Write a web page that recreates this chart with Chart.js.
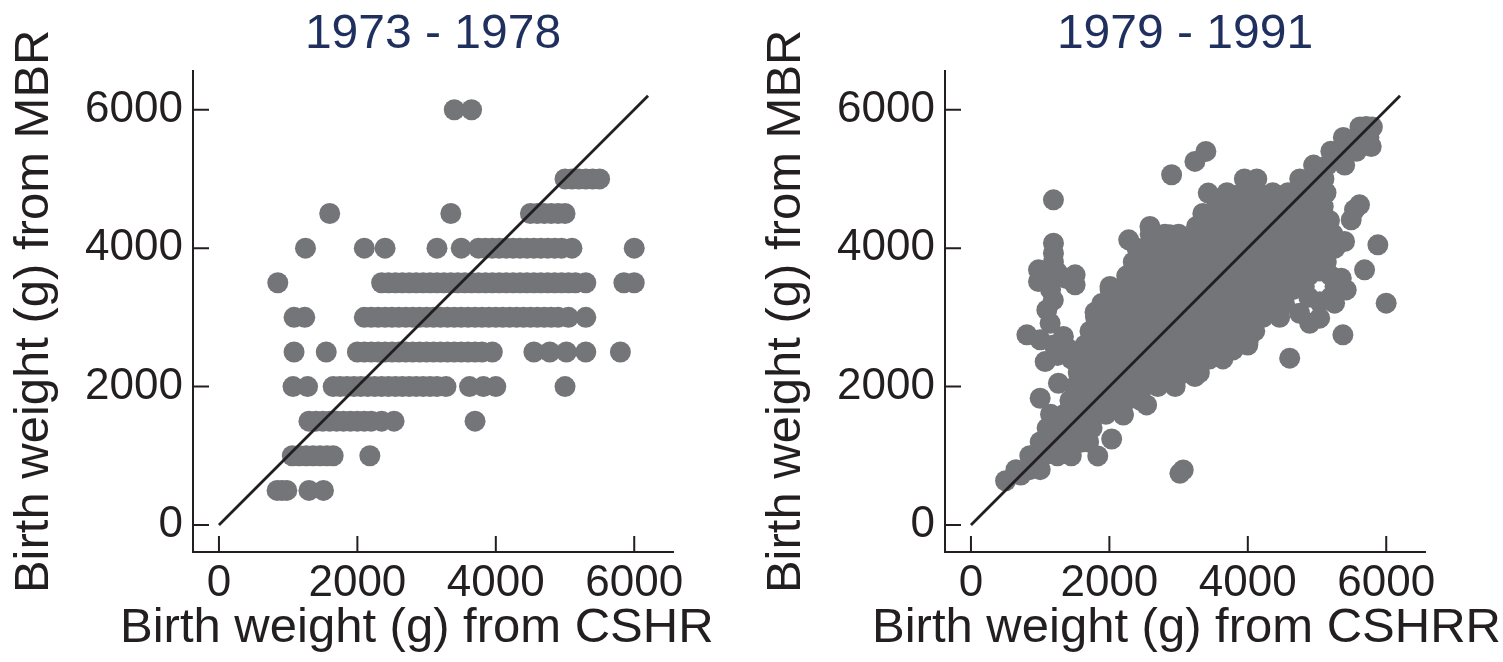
<!DOCTYPE html>
<html>
<head>
<meta charset="utf-8">
<script src="https://cdn.jsdelivr.net/npm/chart.js@4.4.1/dist/chart.umd.min.js"></script>
<style>
  body { margin: 0; background: #fff; }
  .panel { position: absolute; top: 0; height: 662px; }
  #left { left: 0; width: 752px; }
  #right { left: 752px; width: 751px; }
</style>
</head>
<body>
<div class="panel" id="left"><canvas id="c1" width="752" height="662"></canvas></div>
<div class="panel" id="right"><canvas id="c2" width="751" height="662"></canvas></div>
<script>
const xTicks = [0, 2000, 4000, 6000]
const yTicks = [0, 2000, 4000, 6000]
const refLine = [0, 6200]

// 1973 - 1978: MBR weights come in 500 g steps, one row per level
const leftRowY = [6000, 5000, 4500, 4000, 3500, 3000, 2500, 2000, 1500, 1000, 500]
const leftRowX = [
  [3400, 3650],
  [5000, 5100, 5200, 5300, 5400, 5500],
  [1600, 3350, 4500, 4600, 4700, 4800, 4900, 5000],
  [1250, 2100, 2400, 3150, 3500, 3750, 3850, 3950, 4050, 4150, 4250, 4350, 4450, 4550, 4650, 4750, 4850, 4950, 5100, 6000],
  [850, 2350, 2450, 2550, 2650, 2750, 2850, 2950, 3050, 3150, 3250, 3350, 3450, 3550, 3650, 3750, 3850, 3950, 4050, 4150, 4250, 4350, 4450, 4550, 4650, 4750, 4850, 4950, 5050, 5150, 5300, 5850, 6000],
  [1085, 1240, 2100, 2200, 2300, 2400, 2500, 2600, 2700, 2800, 2900, 3000, 3100, 3200, 3300, 3400, 3500, 3600, 3700, 3800, 3900, 4000, 4100, 4200, 4300, 4400, 4500, 4600, 4700, 4800, 4900, 5050, 5300],
  [1085, 1550, 2000, 2100, 2200, 2300, 2400, 2500, 2600, 2700, 2800, 2900, 3000, 3100, 3200, 3300, 3400, 3500, 3600, 3700, 3800, 3950, 4550, 4780, 5020, 5300, 5800],
  [1070, 1280, 1650, 1750, 1850, 1950, 2050, 2150, 2250, 2350, 2450, 2550, 2650, 2750, 2850, 2950, 3050, 3150, 3280, 3620, 3820, 4000, 5000],
  [1300, 1400, 1500, 1600, 1700, 1800, 1900, 2000, 2100, 2200, 2350, 2530, 3700],
  [1060, 1160, 1260, 1360, 1460, 1560, 1650, 2180],
  [840, 910, 980, 1300, 1510]
]

// 1979 - 1991: main cloud by rows, then the stray points
const rightRowY = [800, 1000, 1200, 1400, 1600, 1800, 2000, 2200, 2400, 2600, 2800, 3000, 3200, 3400, 3600, 3800, 4000, 4200, 4400, 4600, 4800, 5000, 5200, 5400, 5600, 5750]
const rightRowX = [
  [650, 850, 1000],
  [850, 1050, 1250, 1450],
  [1000, 1200, 1400, 1600, 1700],
  [1100, 1300, 1500, 1750],
  [1150, 1350, 1550, 1750, 1950, 2200],
  [1430, 1650, 1850, 2050, 2250, 2450],
  [1500, 1700, 1900, 2100, 2300, 2500, 2700, 2950],
  [1550, 1750, 1950, 2150, 2350, 2550, 2750, 2950, 3150, 3300],
  [1450, 1650, 1850, 2050, 2250, 2450, 2650, 2850, 3050, 3250, 3450, 3640],
  [1650, 1870, 2090, 2310, 2530, 2750, 2970, 3190, 3410, 3630, 3850, 4000],
  [1720, 1940, 2160, 2380, 2600, 2820, 3040, 3260, 3480, 3700, 3920, 4100],
  [1800, 2020, 2240, 2460, 2680, 2900, 3120, 3340, 3560, 3780, 4000, 4220, 4460],
  [1890, 2110, 2330, 2550, 2770, 2990, 3210, 3430, 3650, 3870, 4090, 4310, 4530],
  [2010, 2230, 2450, 2670, 2890, 3110, 3330, 3550, 3770, 3990, 4210, 4430, 4650],
  [2250, 2470, 2690, 2910, 3130, 3350, 3570, 3790, 4010, 4230, 4450, 4670],
  [2345, 2565, 2785, 3005, 3225, 3445, 3665, 3885, 4105, 4325, 4545, 4765, 4985, 5134],
  [2400, 2620, 2840, 3060, 3280, 3500, 3720, 3940, 4160, 4380, 4600, 4820, 5040, 5260],
  [2590, 2800, 3000, 3250, 3470, 3690, 3910, 4130, 4350, 4570, 4790, 5010, 5230],
  [3500, 3720, 3940, 4160, 4380, 4600, 4820, 5040, 5180],
  [3550, 3770, 3990, 4210, 4430, 4650, 4870, 5090],
  [3700, 3920, 4140, 4360, 4580, 4800, 5000, 5130],
  [3950, 4130, 4750, 4950, 5100],
  [4950, 5150, 5400],
  [5200, 5400, 5570],
  [5380, 5580, 5750],
  [5620, 5800]
]
const rightExtra = [
  [500, 640], [720, 723],
  [1832, 998], [2033, 1243], [2202, 1590], [2538, 1735], [2947, 2048], [3235, 2144], [3788, 2530], [4004, 2650],
  [3067, 795], [3019, 747], [4605, 2410],
  [1192, 4698], [1192, 4072], [1192, 3927], [1192, 3800], [976, 3686], [976, 3518], [1080, 3600], [1250, 3650],
  [1505, 3614], [1505, 3470], [1380, 3560], [1150, 3400], [1190, 3250], [1096, 3108], [1144, 2915],
  [808, 2747], [1000, 2675], [1336, 2723], [1200, 2600], [1072, 2361], [1250, 2450], [1400, 2550],
  [1264, 2048], [1000, 1831],
  [1793, 3074], [2009, 3446], [2279, 4120], [2586, 4313], [2874, 4192], [3259, 4313],
  [2899, 5060], [3236, 5253], [3394, 5397], [3428, 4795], [3548, 4578], [3350, 4500],
  [5260, 3446], [5195, 3603], [5038, 3668], [4881, 3603], [4816, 3446], [4881, 3289], [5038, 3224], [5195, 3289],
  [5350, 3566], [5422, 3397], [5254, 3205], [5038, 2988], [4894, 2915], [4749, 3060],
  [5398, 4096], [5879, 4048], [5687, 3686], [5999, 3205], [5374, 2747],
  [5542, 4554], [5614, 4626], [5494, 4409], [5783, 5469], [5711, 5759]
]

const font = "'Liberation Sans', Arial, sans-serif"
const ink = '#231f20'
const dotColor = '#747579'

function rowsToPoints(ys, xs){
  let pts = []
  ys.forEach((y, i) => xs[i].forEach(x => pts.push({x: x, y: y})))
  return pts
}

// tick marks point into the plot, so draw them ourselves from the scales
const innerTicks = {
  id: 'innerTicks',
  afterDatasetsDraw(chart){
    const {ctx, chartArea, scales} = chart
    ctx.save()
    ctx.strokeStyle = ink
    ctx.lineWidth = 2
    ctx.beginPath()
    xTicks.forEach(v => {
      let px = scales.x.getPixelForValue(v)
      ctx.moveTo(px, chartArea.bottom)
      ctx.lineTo(px, chartArea.bottom - 16)
    })
    yTicks.forEach(v => {
      let py = scales.y.getPixelForValue(v)
      ctx.moveTo(chartArea.left, py)
      ctx.lineTo(chartArea.left + 16, py)
    })
    ctx.stroke()
    ctx.restore()
  }
}

// axis titles are wider than the plot, the built in ones get squeezed
const axisTitles = {
  id: 'axisTitles',
  afterDraw(chart, args, opts){
    const {ctx, chartArea} = chart
    ctx.save()
    ctx.fillStyle = ink
    ctx.font = '49px ' + font
    ctx.textBaseline = 'alphabetic'
    ctx.textAlign = 'left'
    ctx.fillText(opts.x, chartArea.left - 73, chartArea.bottom + 90)
    ctx.translate(48, (chartArea.top + chartArea.bottom) / 2)
    ctx.rotate(-Math.PI / 2)
    ctx.textAlign = 'center'
    ctx.fillText(opts.y, 0, 0)
    ctx.restore()
  }
}

function makeChart(id, title, xTitle, points, rightPad){
  return new Chart(document.getElementById(id), {
    type: 'scatter',
    data: {
      datasets: [
        {
          data: refLine.map(v => ({x: v, y: v})),
          showLine: true,
          borderColor: ink,
          borderWidth: 2.8,
          pointRadius: 0,
          order: 0
        },
        {
          data: points,
          backgroundColor: dotColor,
          pointRadius: 10.5,
          pointBorderWidth: 0,
          borderWidth: 0,
          order: 1
        }
      ]
    },
    options: {
      responsive: false,
      animation: false,
      devicePixelRatio: 1,
      layout: { padding: { left: 0, right: rightPad, top: 0, bottom: 0 } },
      plugins: {
        legend: { display: false },
        tooltip: { enabled: false },
        title: {
          display: true,
          fullSize: false,
          text: title,
          color: '#1f305e',
          font: { family: font, size: 48, weight: 'normal' },
          padding: { top: 6, bottom: 7 }
        },
        axisTitles: { x: xTitle, y: 'Birth weight (g) from MBR' }
      },
      scales: {
        x: {
          type: 'linear',
          min: -375,
          max: 6560,
          afterBuildTicks: s => { s.ticks = xTicks.map(v => ({value: v})) },
          afterFit: s => { s.height = 110 },
          ticks: { color: ink, font: { family: font, size: 44 }, padding: 5, maxRotation: 0, callback: v => String(v) },
          grid: { drawOnChartArea: false, drawTicks: false },
          border: { display: true, color: ink, width: 2 }
        },
        y: {
          type: 'linear',
          min: -390,
          max: 6565,
          afterBuildTicks: s => { s.ticks = yTicks.map(v => ({value: v})) },
          afterFit: s => { s.width = 193 },
          ticks: { color: ink, font: { family: font, size: 44 }, padding: 10, callback: v => String(v) },
          grid: { drawOnChartArea: false, drawTicks: false },
          border: { display: true, color: ink, width: 2 }
        }
      }
    },
    plugins: [innerTicks, axisTitles]
  })
}

makeChart('c1', '1973 - 1978', 'Birth weight (g) from CSHR', rowsToPoints(leftRowY, leftRowX), 79)
makeChart('c2', '1979 - 1991', 'Birth weight (g) from CSHRR',
  rowsToPoints(rightRowY, rightRowX).concat(rightExtra.map(p => ({x: p[0], y: p[1]}))), 78)
</script>
</body>
</html>
